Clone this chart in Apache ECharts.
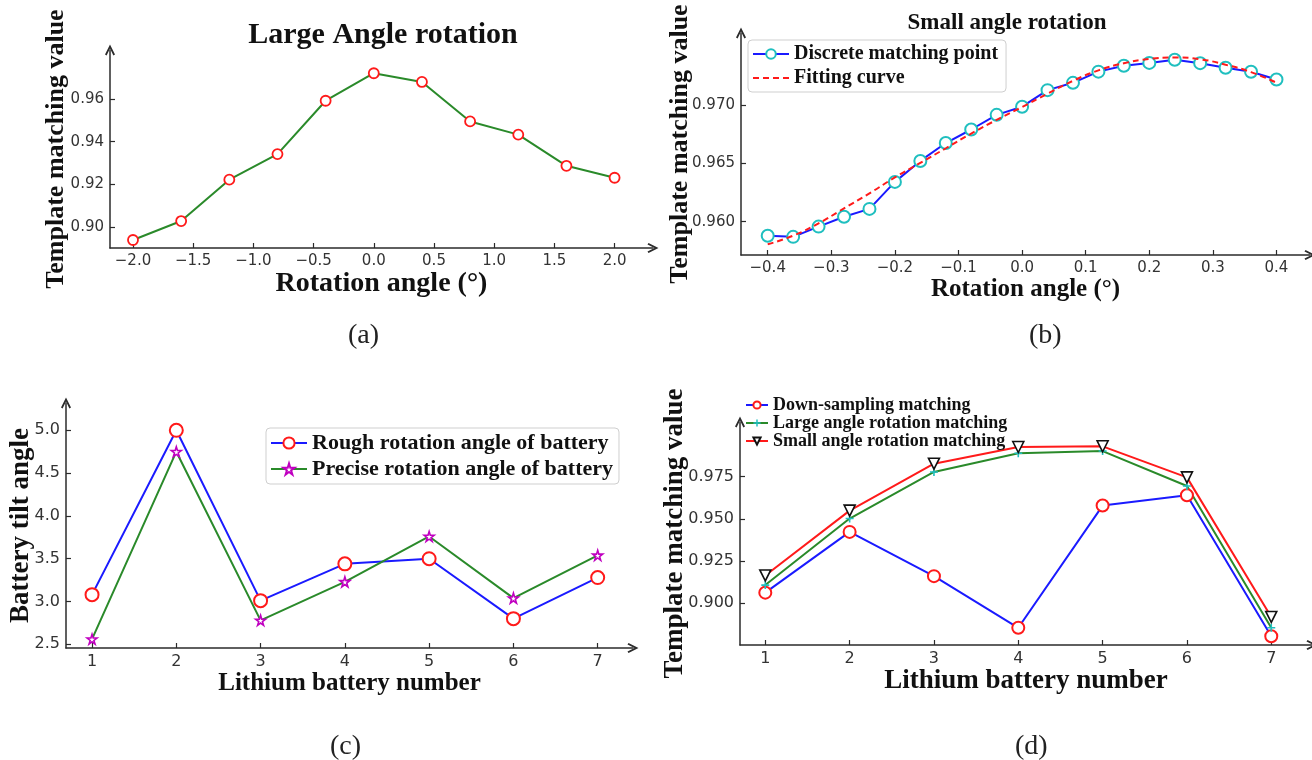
<!DOCTYPE html>
<html>
<head>
<meta charset="utf-8">
<script src="https://cdn.jsdelivr.net/npm/echarts@6/dist/echarts.min.js"></script>
<style>
  html, body { margin: 0; padding: 0; background: #ffffff; }
  #chart { width: 1312px; height: 760px; }
</style>
</head>
<body>
<div id="chart"></div>
<script>
// ---------- DATA ----------
// (a) Large angle rotation
const angleA = [-2.0, -1.6, -1.2, -0.8, -0.4, 0.0, 0.4, 0.8, 1.2, 1.6, 2.0];
const matchA = [0.8939, 0.9028, 0.9222, 0.9342, 0.9592, 0.9721, 0.9680, 0.9495, 0.9433, 0.9287, 0.9231];
const ticksAX = [-2.0, -1.5, -1.0, -0.5, 0.0, 0.5, 1.0, 1.5, 2.0];
const ticksAY = [0.90, 0.92, 0.94, 0.96];

// (b) Small angle rotation
const angleB = [-0.40, -0.36, -0.32, -0.28, -0.24, -0.20, -0.16, -0.12, -0.08, -0.04, 0.00,
                0.04, 0.08, 0.12, 0.16, 0.20, 0.24, 0.28, 0.32, 0.36, 0.40];
const discreteB = [0.95880, 0.95870, 0.95958, 0.96043, 0.96110, 0.96342, 0.96522, 0.96676, 0.96792, 0.96918, 0.96988,
                   0.97130, 0.97193, 0.97289, 0.97340, 0.97364, 0.97391, 0.97362, 0.97323, 0.97288, 0.97222];
const fitB = [0.95806, 0.95880, 0.95986, 0.96115, 0.96244, 0.96380, 0.96505, 0.96631, 0.96757, 0.96875, 0.96985,
              0.97100, 0.97210, 0.97300, 0.97361, 0.97398, 0.97410, 0.97395, 0.97348, 0.97285, 0.97194];
const ticksBX = [-0.4, -0.3, -0.2, -0.1, 0.0, 0.1, 0.2, 0.3, 0.4];
const ticksBY = [0.960, 0.965, 0.970];

// (c) Battery tilt angle
const batteryC = [1, 2, 3, 4, 5, 6, 7];
const roughC = [3.08, 5.00, 3.01, 3.44, 3.50, 2.80, 3.28];
const preciseC = [2.56, 4.75, 2.78, 3.23, 3.76, 3.04, 3.54];
const ticksCX = [1, 2, 3, 4, 5, 6, 7];
const ticksCY = [2.5, 3.0, 3.5, 4.0, 4.5, 5.0];

// (d) Template matching value per battery
const batteryD = [1, 2, 3, 4, 5, 6, 7];
const downD = [0.9063, 0.9423, 0.9161, 0.8855, 0.9579, 0.9640, 0.8805];
const largeD = [0.9108, 0.9502, 0.9778, 0.9889, 0.9902, 0.9695, 0.8855];
const smallD = [0.9165, 0.9549, 0.9827, 0.9926, 0.9930, 0.9746, 0.8919];
const ticksDX = [1, 2, 3, 4, 5, 6, 7];
const ticksDY = [0.900, 0.925, 0.950, 0.975];

const captions = ['(a)', '(b)', '(c)', '(d)'];

// ---------- STYLE HELPERS ----------
const SERIF = '"Liberation Serif", "Times New Roman", serif';
const SANS = '"DejaVu Sans", sans-serif';
const AXIS_COLOR = '#2b2b2b';
const ARROW = 'path://M0,10 L5,0 L10,10 L8.4,11 L5,4 L1.6,11 Z';

const GREEN = '#2a8a2a', BLUE = '#1a1aff', RED = '#ff1a1a', CYAN = '#1fbfbf', MAGENTA = '#c000c0';
const STAR = 'path://M50,0 L61,35 L98,35 L68,57 L79,91 L50,70 L21,91 L32,57 L2,35 L39,35 Z';
const PLUS = 'path://M4,0 L6,0 L6,4 L10,4 L10,6 L6,6 L6,10 L4,10 L4,6 L0,6 L0,4 L4,4 Z';

function fmt(d) {
  return v => {
    const s = Math.abs(v).toFixed(d);
    return (v < -1e-9 ? '\u2212' : '') + s;
  };
}
function pairs(xs, ys) { return xs.map((x, i) => [x, ys[i]]); }

function axisCfg(isY, grid, min, max, ticks, dec, name, nameSize, nameGap, labelSize) {
  const cfg = {
    type: 'value', gridIndex: grid, min: min, max: max,
    name: name, nameLocation: 'middle', nameGap: nameGap,
    nameTextStyle: { fontFamily: SERIF, fontWeight: 'bold', fontSize: nameSize, color: '#111' },
    axisLine: { show: true, onZero: false, symbol: ['none', ARROW], symbolSize: [13, 11],
                lineStyle: { color: AXIS_COLOR, width: 1.5 } },
    axisTick: { show: true, inside: true, length: 5, customValues: ticks, lineStyle: { color: AXIS_COLOR, width: 1.2 } },
    axisLabel: { customValues: ticks, formatter: fmt(dec), fontFamily: SANS, fontSize: labelSize, color: '#333', margin: isY ? 6 : 6 },
    splitLine: { show: false }
  };
  if (isY) { cfg.nameRotate = 90; cfg.nameMoveOverlap = false; }
  return cfg;
}

const option = {
  backgroundColor: '#ffffff',
  animation: false,
  title: [
    { text: 'Large Angle rotation', left: 378, top: 15, textAlign: 'center',
      textStyle: { fontFamily: SERIF, fontWeight: 'bold', fontSize: 30, color: '#111' } },
    { text: 'Small angle rotation', left: 1002, top: 7, textAlign: 'center',
      textStyle: { fontFamily: SERIF, fontWeight: 'bold', fontSize: 23, color: '#111' } }
  ],
  grid: [
    { left: 110, top: 50, width: 543, height: 198 },
    { left: 741, top: 33, width: 569, height: 222 },
    { left: 66, top: 403, width: 567, height: 245 },
    { left: 740, top: 422, width: 572, height: 223 }
  ],
  xAxis: [
    axisCfg(false, 0, -2.191, 2.319, ticksAX, 1, 'Rotation angle (°)', 28, 19, 15),
    axisCfg(false, 1, -0.442, 0.4527, ticksBX, 1, 'Rotation angle (°)', 25, 17, 15),
    axisCfg(false, 2, 0.691, 7.419, ticksCX, 0, 'Lithium battery number', 25, 17, 16),
    axisCfg(false, 3, 0.700, 7.483, ticksDX, 0, 'Lithium battery number', 27, 14, 16)
  ],
  yAxis: [
    axisCfg(true, 0, 0.89016, 0.98299, ticksAY, 2, 'Template matching value', 26, 41, 15),
    axisCfg(true, 1, 0.95714, 0.97621, ticksBY, 3, 'Template matching value', 26, 48, 15),
    axisCfg(true, 2, 2.457, 5.319, ticksCY, 1, 'Battery tilt angle', 27, 31, 16),
    axisCfg(true, 3, 0.8753, 1.00741, ticksDY, 3, 'Template matching value', 27, 51, 16)
  ],
  legend: [
    { data: [{ name: 'Discrete matching point' }, { name: 'Fitting curve', itemStyle: { opacity: 0 } }],
      orient: 'vertical', left: 748, top: 40,
      itemWidth: 36, itemHeight: 12, itemGap: 4, padding: [4, 8, 4, 4],
      borderColor: '#cfcfcf', borderWidth: 1, borderRadius: 4, backgroundColor: 'rgba(255,255,255,0.9)',
      textStyle: { fontFamily: SERIF, fontWeight: 'bold', fontSize: 20, color: '#111' } },
    { data: ['Rough rotation angle of battery', 'Precise rotation angle of battery'], orient: 'vertical', left: 266, top: 428,
      itemWidth: 36, itemHeight: 14, itemGap: 4, padding: [4, 6, 4, 4],
      borderColor: '#cfcfcf', borderWidth: 1, borderRadius: 4, backgroundColor: 'rgba(255,255,255,0.9)',
      textStyle: { fontFamily: SERIF, fontWeight: 'bold', fontSize: 22, color: '#111' } },
    { data: ['Down-sampling matching', 'Large angle rotation matching', 'Small angle rotation matching'],
      orient: 'vertical', left: 745, top: 396,
      itemWidth: 22, itemHeight: 9, itemGap: 0, padding: 0,
      textStyle: { fontFamily: SERIF, fontWeight: 'bold', fontSize: 18, color: '#111', lineHeight: 17 } }
  ],
  graphic: [
    { type: 'text', left: 348, top: 322, style: { text: captions[0], font: '28px "Liberation Serif"', fill: '#222' } },
    { type: 'text', left: 1029, top: 322, style: { text: captions[1], font: '28px "Liberation Serif"', fill: '#222' } },
    { type: 'text', left: 330, top: 733, style: { text: captions[2], font: '28px "Liberation Serif"', fill: '#222' } },
    { type: 'text', left: 1015, top: 733, style: { text: captions[3], font: '28px "Liberation Serif"', fill: '#222' } }
  ],
  series: [
    { name: 'Large Angle rotation', type: 'line', xAxisIndex: 0, yAxisIndex: 0, data: pairs(angleA, matchA),
      lineStyle: { color: GREEN, width: 2 }, symbol: 'circle', symbolSize: 10,
      itemStyle: { color: '#fff', borderColor: RED, borderWidth: 1.8 } },

    { name: 'Discrete matching point', type: 'line', xAxisIndex: 1, yAxisIndex: 1, data: pairs(angleB, discreteB),
      lineStyle: { color: BLUE, width: 2 }, symbol: 'circle', symbolSize: 12,
      itemStyle: { color: '#fff', borderColor: CYAN, borderWidth: 2 }, z: 3 },
    { name: 'Fitting curve', type: 'line', xAxisIndex: 1, yAxisIndex: 1, data: pairs(angleB, fitB),
      smooth: true, showSymbol: false, symbol: 'none',
      lineStyle: { color: RED, width: 2, type: [6, 4] }, itemStyle: { color: RED }, z: 4 },

    { name: 'Rough rotation angle of battery', type: 'line', xAxisIndex: 2, yAxisIndex: 2, data: pairs(batteryC, roughC),
      lineStyle: { color: BLUE, width: 2 }, symbol: 'circle', symbolSize: 13,
      itemStyle: { color: '#fff', borderColor: RED, borderWidth: 2 } },
    { name: 'Precise rotation angle of battery', type: 'line', xAxisIndex: 2, yAxisIndex: 2, data: pairs(batteryC, preciseC),
      lineStyle: { color: GREEN, width: 2 }, symbol: STAR, symbolSize: 10,
      itemStyle: { color: '#fff', borderColor: MAGENTA, borderWidth: 1.6 } },

    { name: 'Down-sampling matching', type: 'line', xAxisIndex: 3, yAxisIndex: 3, data: pairs(batteryD, downD),
      lineStyle: { color: BLUE, width: 2 }, symbol: 'circle', symbolSize: 12,
      itemStyle: { color: '#fff', borderColor: RED, borderWidth: 2 } },
    { name: 'Large angle rotation matching', type: 'line', xAxisIndex: 3, yAxisIndex: 3, data: pairs(batteryD, largeD),
      lineStyle: { color: GREEN, width: 2 }, symbol: PLUS, symbolSize: 8,
      itemStyle: { color: CYAN, borderWidth: 0 } },
    { name: 'Small angle rotation matching', type: 'line', xAxisIndex: 3, yAxisIndex: 3, data: pairs(batteryD, smallD),
      lineStyle: { color: RED, width: 2 }, symbol: 'triangle', symbolRotate: 180, symbolSize: 11,
      itemStyle: { color: '#fff', borderColor: '#111', borderWidth: 1.6 } }
  ]
};

const chart = echarts.init(document.getElementById('chart'), null, { renderer: 'canvas' });
chart.setOption(option);
</script>
</body>
</html>
